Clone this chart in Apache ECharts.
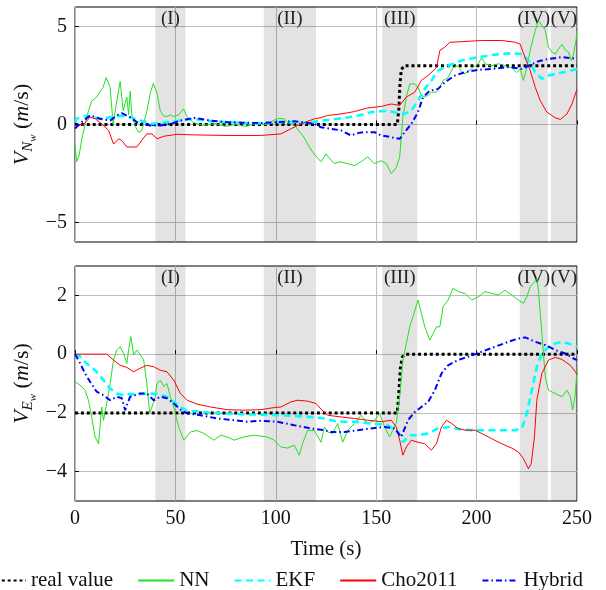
<!DOCTYPE html>
<html><head><meta charset="utf-8">
<script src="https://cdn.jsdelivr.net/npm/echarts@6/dist/echarts.min.js"></script>
<style>html,body{margin:0;padding:0;background:#fff}#c{width:606px;height:590px}</style>
</head><body><div id="c"></div>
<script>
const seriesNames = ['real value', 'NN', 'EKF', 'Cho2011', 'Hybrid'];
const bands = [[40, 55, '(I)'], [94, 120, '(II)'], [153, 170.5, '(III)'], [221.5, 235.5, '(IV)'], [237, 250, '(V)']];
const xTicks = [0, 50, 100, 150, 200, 250];
const yTicksN = [-5, 0, 5];
const yTicksE = [-4, -2, 0, 2];

// ---- North velocity (top panel) ----
const realN = [[0,0],[160.5,0],[161.3,0.8],[161.8,2.0],[162.5,2.8],[164,3],[250,3]];
const nnN = [[0,-1.0],[0.8,-1.9],[2,-1.6],[3.3,-0.8],[5,0],[6.7,0.7],[8.3,1.2],[10.8,1.4],[12.5,1.7],[14,1.9],[15.5,2.4],[17.5,1.9],[19,0],[20.8,1.2],[22.5,2.2],[24,0.7],[25,1.1],[25.8,1.4],[26.7,0.5],[27.5,1.7],[28.3,0.5],[30,-0.1],[31.7,-0.4],[33.3,-0.3],[35.8,0.7],[37.5,1.6],[39,2.1],[40.8,1.6],[42.5,0.7],[44,0.45],[45.8,0.4],[47.5,0.5],[49.2,0.4],[51.7,0.5],[54,0.8],[55.8,0.4],[59,0.1],[64,-0.05],[70,0.05],[75,-0.1],[80,0.0],[85,-0.1],[90,0.05],[95,0.0],[100.8,0.3],[104,0.3],[106,0.1],[109,0],[114,-0.65],[117,-1.2],[119,-1.5],[122.5,-1.9],[125,-1.5],[126.5,-1.7],[129.2,-2.0],[132,-1.9],[135.8,-2.0],[139.2,-2.1],[142.5,-1.9],[145.8,-1.65],[149,-2.0],[152.5,-1.85],[155,-2.0],[157.5,-2.5],[160,-2.2],[161.7,-1.65],[163.3,0.4],[165,1.4],[166.7,2.07],[169.2,2.07],[170.8,1.9],[172.5,1.5],[174.2,1.4],[176,1.5],[177.5,1.65],[180,1.65],[181.7,1.9],[183.3,2.25],[185.8,2.4],[188.3,2.9],[190.8,3.0],[192.5,2.7],[194.2,2.6],[197.5,2.85],[200.8,3.1],[202.5,3.4],[204.2,3.1],[207.5,3.0],[210.8,3.1],[214.2,3.0],[217.5,2.9],[220,2.65],[221.7,2.85],[223.3,2.25],[225,2.9],[226.7,3.8],[229.2,4.8],[230.8,5.3],[232.5,5.05],[234.2,4.8],[235.8,3.95],[237.5,3.7],[239.2,3.6],[240.8,3.85],[242.5,4.1],[244.2,3.8],[245.8,3.7],[247.2,3.25],[248.3,3.6],[249.5,4.3],[250,4.8]];
const ekfN = [[0,0.1],[0.8,0.3],[5.8,0.45],[9.2,0.37],[12.5,0.29],[17.5,0.37],[22.5,0.45],[27.5,0.37],[32.5,0.2],[39.2,0.03],[45.8,0.12],[52.5,0.2],[59.2,0.29],[67.5,0.17],[75.8,0.12],[84.2,0.07],[92.5,0.07],[100.8,0.12],[109.2,0.12],[115.8,0.07],[122.5,0.2],[130.8,0.29],[139.2,0.41],[147.5,0.63],[155.8,0.71],[160.8,0.58],[164.2,0.54],[167.5,0.71],[170.8,1.22],[174.2,1.82],[177.5,2.25],[180.8,2.75],[185.8,3.0],[192.5,3.27],[200.8,3.44],[209.2,3.57],[217.5,3.64],[222.5,3.6],[225.8,3.27],[229.2,2.67],[232.5,2.33],[235.8,2.5],[239.2,2.58],[245.8,2.72],[250,2.84]];
const choN = [[0,-0.05],[4.2,0.0],[7.5,0.37],[10,0.3],[13.3,0.03],[16.7,-0.3],[19.2,-1.0],[21.7,-0.73],[23.3,-0.82],[25.8,-1.15],[30.8,-1.15],[33.3,-0.8],[35.8,-0.48],[38.3,-0.48],[40.8,-0.73],[44.2,-0.6],[50.8,-0.5],[59,-0.53],[75.8,-0.56],[92.5,-0.56],[102.5,-0.48],[107.5,-0.22],[112.5,0.03],[119.2,0.29],[122.5,0.35],[125.8,0.46],[132.5,0.54],[139.2,0.66],[145.8,0.85],[152.5,0.92],[157.5,1.05],[161.7,0.97],[165,1.4],[169.2,1.65],[172.5,2.25],[175.8,2.5],[180,2.9],[181.7,3.78],[184.2,3.95],[186.7,4.2],[192.5,4.23],[202.5,4.29],[212.5,4.29],[219.2,4.2],[221.7,4.1],[224.2,3.4],[226.7,2.75],[229.2,1.9],[231.7,1.22],[235,0.63],[239.2,0.34],[241.7,0.26],[245,0.54],[247.5,1.05],[250,1.8]];
const hybN = [[0,-0.2],[0.8,-0.22],[4.2,0.2],[7.5,0.46],[12.5,0.29],[17.5,0.2],[20.8,0.46],[23.3,0.58],[27.5,0.37],[30.8,0.12],[37.5,-0.05],[42.5,-0.05],[47.5,0.03],[52.5,0.2],[59.2,0.34],[67.5,0.2],[75.8,0.12],[92.5,0.07],[109.2,0.17],[119.2,0.03],[122.5,-0.14],[127.5,-0.22],[132.5,-0.3],[137.5,-0.56],[140.8,-0.44],[144.2,-0.39],[149.2,-0.39],[152.5,-0.56],[157.5,-0.65],[161.7,-0.73],[164.2,-0.39],[167.5,0.03],[170.8,0.63],[173.3,1.39],[176.7,1.73],[180.8,1.82],[184.2,2.16],[189.2,2.5],[194.2,2.67],[200.8,2.79],[207.5,2.84],[215.8,2.93],[222.5,2.84],[225.8,3.0],[230.8,3.23],[235.8,3.35],[242.5,3.44],[250,3.35]];

// ---- East velocity (bottom panel) ----
const realE = [[0,-2],[160.5,-2],[161.3,-1.3],[162,-0.5],[163,-0.1],[164.5,0],[250,0]];
const nnE = [[0,-0.94],[2.5,-1.05],[5,-1.23],[6.7,-1.57],[8.3,-2.14],[10,-2.82],[11.7,-3.05],[12.5,-2.45],[13.3,-1.8],[14.2,-2.25],[15.8,-1.68],[17.5,-1.0],[19.2,-0.2],[20.8,0.14],[22.5,0.25],[23.3,0.3],[24.2,0.02],[25.8,-0.32],[26.7,0.14],[27.8,0.6],[29.2,-0.02],[30.8,0.14],[32.5,-0.02],[34.2,-0.2],[35.8,-1.0],[37.2,-2.0],[38.3,-1.8],[40,-1.45],[40.8,-1.0],[42.5,-0.89],[44.2,-1.1],[45.8,-1.0],[47.5,-1.45],[49.2,-1.8],[51.7,-2.5],[54.2,-2.93],[57.5,-2.65],[60.8,-2.6],[64.2,-2.7],[69.2,-2.93],[72.5,-2.76],[75.8,-2.82],[79.2,-2.93],[84.2,-2.82],[89.2,-2.76],[95.8,-2.82],[99.2,-2.93],[102.5,-3.16],[105.8,-3.2],[109.2,-3.1],[111.7,-3.44],[113.3,-3.05],[115.8,-2.6],[119.2,-2.6],[122.5,-3.0],[124.2,-2.48],[125.8,-2.65],[128.3,-2.7],[130.8,-2.36],[133.3,-3.0],[135.8,-2.6],[139.2,-2.36],[142.5,-2.08],[145.8,-2.36],[149.2,-2.25],[151.7,-2.02],[154.2,-2.48],[156.7,-2.82],[158.3,-2.59],[160,-2.36],[161.7,-1.45],[163.3,-0.2],[165,0.36],[166.7,0.93],[168.3,1.27],[170.8,1.84],[172.5,1.39],[174.2,0.93],[176.7,0.48],[178.3,0.7],[180,0.93],[181.7,0.93],[183.3,1.61],[185.8,1.84],[188.3,2.24],[190.8,2.13],[194.2,2.07],[197.5,1.84],[200.8,1.95],[204.2,2.13],[207.5,2.07],[210.8,2.01],[214.2,2.18],[217.5,2.01],[220.8,1.84],[223.3,1.73],[225,1.95],[226.7,2.3],[228.3,2.41],[230,2.58],[230.8,2.18],[232.5,0.7],[234.2,-0.77],[235.8,-1.23],[239.2,-1.34],[242.5,-1.45],[245,-1.23],[246.7,-1.45],[247.8,-1.9],[249,-1.45],[250,-0.55]];
const ekfE = [[0,0],[2.5,-0.08],[5.8,-0.32],[10.8,-0.6],[14.2,-0.89],[17.5,-1.17],[20.8,-1.34],[24.2,-1.4],[27.5,-1.36],[32.5,-1.36],[37.5,-1.34],[40.8,-1.36],[45.8,-1.45],[49.2,-1.63],[52.5,-1.8],[55.8,-1.93],[60.8,-1.95],[67.5,-2.0],[75.8,-2.02],[84.2,-2.05],[92.5,-2.06],[100.8,-2.08],[109.2,-2.1],[117.5,-2.14],[124,-2.19],[130.8,-2.3],[139.2,-2.3],[147.5,-2.36],[155.8,-2.42],[160.8,-2.65],[163.3,-2.99],[166.7,-2.76],[170.8,-2.76],[175.8,-2.7],[180.8,-2.53],[185.8,-2.48],[192.5,-2.57],[199.2,-2.59],[209.2,-2.59],[219.2,-2.59],[222.5,-2.53],[225,-2.02],[227.5,-1.23],[230,-0.43],[232.5,0.02],[235.8,0.25],[239.2,0.36],[242.5,0.42],[245.8,0.36],[250,0.25]];
const choE = [[0,0],[15.8,0],[19.2,-0.2],[22.5,-0.38],[25.8,-0.45],[29.2,-0.6],[32.5,-0.48],[35.8,-0.38],[39.2,-0.43],[42.5,-0.55],[45.8,-0.6],[49.2,-0.89],[52.5,-1.34],[55.8,-1.57],[60.8,-1.7],[67.5,-1.8],[75.8,-1.89],[84.2,-1.91],[92.5,-1.89],[99.2,-1.82],[102.5,-1.8],[107.5,-1.63],[110.8,-1.57],[115.8,-1.6],[120,-1.68],[122.5,-1.87],[125.8,-2.08],[132.5,-2.14],[139.2,-2.19],[145.8,-2.25],[152.5,-2.3],[157.5,-2.25],[160,-2.48],[161.7,-2.93],[163.3,-3.44],[165,-3.16],[167.5,-2.93],[170.8,-3.0],[174.2,-3.05],[177.5,-3.27],[180,-3.05],[182.5,-2.48],[185,-2.25],[187.5,-2.36],[190.8,-2.53],[194.2,-2.59],[199.2,-2.59],[202.5,-2.7],[207.5,-2.88],[212.5,-3.05],[217.5,-3.2],[220.8,-3.33],[223.3,-3.55],[225.8,-3.9],[227.2,-3.73],[228.8,-2.82],[230,-1.57],[232.5,-0.66],[235.8,-0.2],[239.2,-0.11],[242.5,-0.18],[246.7,-0.38],[249.2,-0.6],[250,-0.7]];
const hybE = [[0,0],[2.5,-0.3],[5,-0.66],[7.5,-0.94],[10.8,-1.28],[14.2,-1.4],[17.5,-1.57],[20.8,-1.45],[23.3,-1.5],[25,-1.91],[26,-1.7],[27.5,-1.45],[32.5,-1.34],[35.8,-1.34],[39.2,-1.57],[42.5,-1.45],[45.8,-1.5],[49.2,-1.68],[52.5,-1.89],[55.8,-2.02],[62.5,-2.08],[70.8,-2.19],[79.2,-2.25],[85.8,-2.3],[92.5,-2.27],[100.8,-2.3],[109.2,-2.42],[117.5,-2.53],[124.2,-2.59],[127.5,-2.65],[134.2,-2.65],[140.8,-2.59],[147.5,-2.53],[154.2,-2.48],[159.2,-2.53],[162.5,-2.82],[165.8,-2.25],[169.2,-1.97],[172.5,-1.8],[175.8,-1.63],[179.2,-1.23],[182.5,-0.66],[185.8,-0.38],[190.8,-0.2],[195.8,-0.09],[202.5,0.08],[209.2,0.25],[215.8,0.42],[220.8,0.53],[224.2,0.57],[229.2,0.42],[234.2,0.31],[239.2,0.14],[244.2,0.02],[248.3,-0.15],[250,-0.2]];

const FONT = "'Liberation Serif', 'DejaVu Serif', serif";
const TXT = '#111';
const styles = {
  'real value': { color: '#000', width: 3, type: [3, 2.9], cap: 'butt' },
  'NN': { color: '#22e022', width: 1, type: 'solid' },
  'EKF': { color: '#00ffff', width: 2.6, type: [7, 4.5] },
  'Cho2011': { color: '#ff0000', width: 1, type: 'solid' },
  'Hybrid': { color: '#0000ff', width: 2, type: [6, 3, 1.5, 3] }
};
const panelData = [
  [realN, nnN, ekfN, choN, hybN],
  [realE, nnE, ekfE, choE, hybE]
];

const minus = v => String(v).replace('-', '\u2212');

function yAxisFor(idx, min, max, ticks, nameRich) {
  return {
    type: 'value', gridIndex: idx, min: min, max: max,
    axisLine: { show: false },
    axisTick: { show: true, inside: true, length: 4, customValues: ticks, lineStyle: { color: '#000' } },
    axisLabel: { customValues: ticks, formatter: minus, fontFamily: FONT, fontSize: 20, color: TXT, margin: 8 },
    splitLine: { show: true, lineStyle: { color: '#bdbdbd', width: 1 } },
    name: nameRich, nameLocation: 'middle', nameGap: 36, nameRotate: 90, nameMoveOverlap: false,
    nameTextStyle: {
      color: TXT, fontFamily: FONT,
      rich: {
        v: { fontFamily: FONT, fontStyle: 'italic', fontSize: 22, color: TXT },
        s: { fontFamily: FONT, fontStyle: 'italic', fontSize: 15, color: TXT, padding: [12, 0, 0, 0] },
        ss: { fontFamily: FONT, fontStyle: 'italic', fontSize: 11, color: TXT, padding: [22, 0, 0, 0] },
        p: { fontFamily: FONT, fontSize: 22, color: TXT },
        m: { fontFamily: FONT, fontStyle: 'italic', fontSize: 22, color: TXT }
      }
    }
  };
}
function xAxisFor(idx, showLabels) {
  return {
    type: 'value', gridIndex: idx, min: 0, max: 250, interval: 50,
    axisLine: { show: false },
    axisTick: { show: true, inside: true, length: 4, lineStyle: { color: '#000' } },
    axisLabel: { show: showLabels, fontFamily: FONT, fontSize: 20, color: TXT, margin: 8 },
    splitLine: { show: true, lineStyle: { color: '#bdbdbd', width: 1 } },
    name: showLabels ? 'Time (s)' : '', nameLocation: 'middle', nameGap: 38, nameMoveOverlap: false,
    nameTextStyle: { fontFamily: FONT, fontSize: 21, color: TXT }
  };
}

const series = [];
[0, 1].forEach(p => {
  series.push({
    type: 'line', xAxisIndex: p, yAxisIndex: p, data: [[0, 0]], symbol: 'none', silent: true,
    lineStyle: { opacity: 0 }, z: 1,
    markArea: {
      silent: true,
      itemStyle: { color: 'rgba(0,0,0,0.11)' },
      label: { position: 'insideTop', distance: 3, fontFamily: FONT, fontSize: 19, color: '#222' },
      data: bands.map(b => [{ xAxis: b[0], name: b[2] }, { xAxis: b[1] }])
    }
  });
  seriesNames.forEach((n, i) => {
    const s = styles[n];
    series.push({
      name: n, type: 'line', xAxisIndex: p, yAxisIndex: p, data: panelData[p][i],
      symbol: 'none', showSymbol: false, smooth: false, z: 3 + i,
      lineStyle: { color: s.color, width: s.width, type: s.type, cap: s.cap || 'butt' },
      itemStyle: { color: s.color }
    });
  });
});

const chart = echarts.init(document.getElementById('c'), null, { renderer: 'canvas' });
chart.setOption({
  animation: false,
  backgroundColor: '#fff',
  textStyle: { fontFamily: FONT },
  grid: [
    { left: 75, right: 29, top: 7, height: 235, show: true, borderColor: '#000', borderWidth: 1, backgroundColor: 'transparent' },
    { left: 75, right: 29, top: 266, height: 235, show: true, borderColor: '#000', borderWidth: 1, backgroundColor: 'transparent' }
  ],
  xAxis: [xAxisFor(0, false), xAxisFor(1, true)],
  yAxis: [
    yAxisFor(0, -6, 6, yTicksN, '{v|V}{s|N}{ss|w}{p| (}{m|m}{p|/s)}'),
    yAxisFor(1, -5, 3, yTicksE, '{v|V}{s|E}{ss|w}{p| (}{m|m}{p|/s)}')
  ],
  legend: {
    data: seriesNames, left: -16, top: 565, itemWidth: 36, itemHeight: 14, itemGap: 24,
    textStyle: { fontFamily: FONT, fontSize: 21, color: TXT },
    itemStyle: { opacity: 0 }
  },
  series: series
});
</script>
</body></html>
